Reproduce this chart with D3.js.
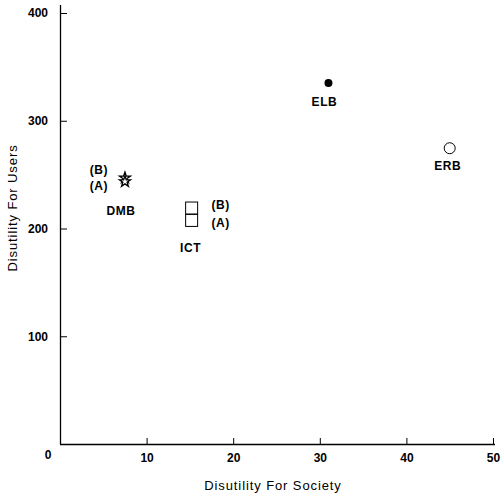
<!DOCTYPE html>
<html><head><meta charset="utf-8">
<script src="https://cdn.jsdelivr.net/npm/d3@7"></script>
<style>
body{margin:0;background:#fff;}
svg{display:block;}
.num{font-family:"Liberation Sans Narrow","Arial Narrow","Liberation Sans",sans-serif;font-weight:bold;font-size:12px;fill:#000;}
.lab{font-family:"Liberation Sans","DejaVu Sans",sans-serif;font-size:12px;font-weight:bold;fill:#000;letter-spacing:0.6px;}
.title{font-family:"Liberation Sans","DejaVu Sans",sans-serif;font-size:13px;fill:#000;letter-spacing:0.9px;}
</style></head>
<body><svg id="c" width="501" height="496"></svg>
<script>
// Data
const xTicks = [10, 20, 30, 40, 50];
const yTicks = [100, 200, 300, 400];
const stars = [ {name: "B", x: 7.5, y: 247}, {name: "A", x: 7.5, y: 243.5} ];
const boxes = [ {name: "B", x: 15.2, y: 219}, {name: "A", x: 15.2, y: 207.5} ];
const filledDots = [ {name: "ELB", x: 31, y: 335} ];
const openDots = [ {name: "ERB", x: 45, y: 274.5} ];
const xTitle = "Disutility For Society";
const yTitle = "Disutility For Users";

const svg = d3.select("#c");
const x = d3.scaleLinear().domain([0, 50]).range([60, 493]);
const y = d3.scaleLinear().domain([0, 400]).range([444, 13]);

// axes
const gx = svg.append("g").attr("transform", "translate(0,444)")
  .call(d3.axisBottom(x).tickValues(xTicks).tickSizeInner(-6).tickSizeOuter(0).tickPadding(14));
gx.select(".domain").attr("d", `M60,0.5H495`);
const gy = svg.append("g").attr("transform", "translate(60,0)")
  .call(d3.axisLeft(y).tickValues(yTicks).tickSizeInner(-7).tickSizeOuter(0).tickPadding(12));
gy.select(".domain").attr("d", `M0.5,5V444`);
svg.selectAll(".domain").attr("stroke", "#000").attr("stroke-width", 1.3);
svg.selectAll(".tick line").attr("stroke", "#000").attr("stroke-width", 1);
svg.selectAll(".tick text").attr("class", "num").attr("font-family", null).attr("font-size", null);
gx.selectAll(".tick text").attr("dy", "0.3em");
svg.append("text").attr("class", "num").attr("x", 48).attr("y", 455).attr("dy", "0.35em")
  .attr("text-anchor", "middle").text("0");

// titles
svg.append("text").attr("class", "title").attr("x", 273).attr("y", 485).attr("dy", "0.35em")
  .attr("text-anchor", "middle").text(xTitle);
svg.append("text").attr("class", "title").attr("transform", "translate(12,208) rotate(-90)")
  .attr("dy", "0.35em").attr("text-anchor", "middle").text(yTitle);

// stars
const starSym = d3.symbol().type(d3.symbolStar).size(38);
svg.selectAll(".star").data(stars).join("path")
  .attr("transform", d => `translate(${x(d.x)},${y(d.y)})`)
  .attr("d", starSym).attr("fill", "#fff").attr("stroke", "#000").attr("stroke-width", 1.3);
svg.selectAll(".starlab").data(stars).join("text").attr("class", "lab")
  .attr("x", d => x(d.x) - 26).attr("y", d => y(d.y) + (d.name === "B" ? -8 : 4)).attr("dy", "0.35em")
  .attr("text-anchor", "middle").text(d => `(${d.name})`);
svg.append("text").attr("class", "lab").attr("x", x(7.5) - 4).attr("y", 211).attr("dy", "0.35em")
  .attr("text-anchor", "middle").text("DMB");

// boxes
svg.selectAll(".box").data(boxes).join("rect")
  .attr("x", d => x(d.x) - 6).attr("y", d => y(d.y) - 6).attr("width", 12).attr("height", 12)
  .attr("fill", "#fff").attr("stroke", "#000").attr("stroke-width", 1);
svg.selectAll(".boxlab").data(boxes).join("text").attr("class", "lab")
  .attr("x", d => x(d.x) + 29).attr("y", d => y(d.y) + (d.name === "B" ? -3 : 2)).attr("dy", "0.35em")
  .attr("text-anchor", "middle").text(d => `(${d.name})`);
svg.append("text").attr("class", "lab").attr("x", x(15.2) - 1).attr("y", 248).attr("dy", "0.35em")
  .attr("text-anchor", "middle").text("ICT");

// dots
svg.selectAll(".fd").data(filledDots).join("circle")
  .attr("cx", d => x(d.x)).attr("cy", d => y(d.y)).attr("r", 4).attr("fill", "#000");
svg.selectAll(".fdl").data(filledDots).join("text").attr("class", "lab")
  .attr("x", d => x(d.x) - 4).attr("y", d => y(d.y) + 19).attr("dy", "0.35em")
  .attr("text-anchor", "middle").text(d => d.name);
svg.selectAll(".od").data(openDots).join("circle")
  .attr("cx", d => x(d.x)).attr("cy", d => y(d.y)).attr("r", 5.5).attr("fill", "#fff")
  .attr("stroke", "#000").attr("stroke-width", 1);
svg.selectAll(".odl").data(openDots).join("text").attr("class", "lab")
  .attr("x", d => x(d.x) - 2).attr("y", d => y(d.y) + 18).attr("dy", "0.35em")
  .attr("text-anchor", "middle").text(d => d.name);
</script></body></html>
